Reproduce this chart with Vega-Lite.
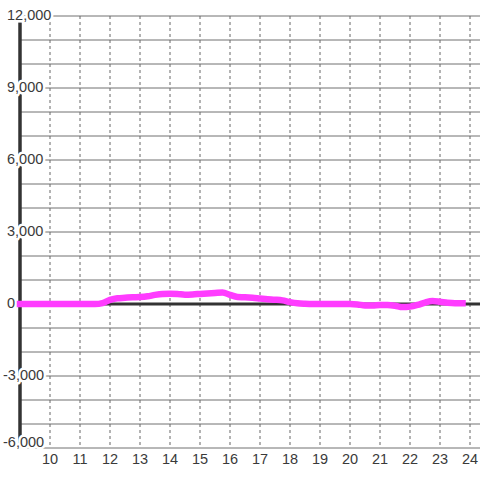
{
  "$schema": "https://vega.github.io/schema/vega-lite/v6.json",
  "width": 480,
  "height": 480,
  "autosize": {"type": "none"},
  "padding": 0,
  "background": "white",
  "config": {"view": {"stroke": null}, "axis": {"disable": true}, "text": {"font": "Liberation Sans", "fontSize": 14.5}},
  "datasets": {
    "series": [
      {"h": 9.0, "v": 0}, {"h": 10.0, "v": 0}, {"h": 11.0, "v": 0}, {"h": 11.5, "v": 0},
      {"h": 11.75, "v": 40}, {"h": 12.0, "v": 170}, {"h": 12.25, "v": 240}, {"h": 12.5, "v": 260},
      {"h": 12.75, "v": 280}, {"h": 13.0, "v": 290}, {"h": 13.25, "v": 320}, {"h": 13.5, "v": 380},
      {"h": 13.75, "v": 420}, {"h": 14.0, "v": 430}, {"h": 14.25, "v": 420}, {"h": 14.5, "v": 390},
      {"h": 14.75, "v": 400}, {"h": 15.0, "v": 420}, {"h": 15.25, "v": 440}, {"h": 15.5, "v": 460},
      {"h": 15.75, "v": 480}, {"h": 16.0, "v": 380}, {"h": 16.25, "v": 290}, {"h": 16.5, "v": 280},
      {"h": 16.75, "v": 260}, {"h": 17.0, "v": 230}, {"h": 17.25, "v": 200}, {"h": 17.5, "v": 180},
      {"h": 17.75, "v": 150}, {"h": 18.0, "v": 80}, {"h": 18.25, "v": 30}, {"h": 18.5, "v": 10},
      {"h": 18.75, "v": 0}, {"h": 19.0, "v": 0}, {"h": 19.5, "v": 0}, {"h": 20.0, "v": 0},
      {"h": 20.25, "v": -20}, {"h": 20.5, "v": -60}, {"h": 20.75, "v": -60}, {"h": 21.0, "v": -40},
      {"h": 21.25, "v": -40}, {"h": 21.5, "v": -70}, {"h": 21.75, "v": -130}, {"h": 22.0, "v": -110},
      {"h": 22.25, "v": -40}, {"h": 22.5, "v": 60}, {"h": 22.75, "v": 120}, {"h": 23.0, "v": 90},
      {"h": 23.25, "v": 50}, {"h": 23.5, "v": 30}, {"h": 23.75, "v": 30}
    ],
    "gridrows": [
      {"v": -6000}, {"v": -5000}, {"v": -4000}, {"v": -3000}, {"v": -2000}, {"v": -1000},
      {"v": 1000}, {"v": 2000}, {"v": 3000}, {"v": 4000}, {"v": 5000}, {"v": 6000},
      {"v": 7000}, {"v": 8000}, {"v": 9000}, {"v": 10000}, {"v": 11000}, {"v": 12000}
    ],
    "xticks": [
      {"h": 10}, {"h": 11}, {"h": 12}, {"h": 13}, {"h": 14}, {"h": 15}, {"h": 16}, {"h": 17},
      {"h": 18}, {"h": 19}, {"h": 20}, {"h": 21}, {"h": 22}, {"h": 23}, {"h": 24}
    ],
    "ylabels": [
      {"v": 12000, "label": "12,000"}, {"v": 9000, "label": "9,000"}, {"v": 6000, "label": "6,000"},
      {"v": 3000, "label": "3,000"}, {"v": 0, "label": "0"}, {"v": -3000, "label": "-3,000"},
      {"v": -6000, "label": "-6,000"}
    ]
  },
  "layer": [
    {
      "data": {"name": "gridrows"},
      "mark": {"type": "rule", "color": "#707070", "strokeWidth": 1},
      "encoding": {
        "y": {"field": "v", "type": "quantitative", "scale": {"domain": [-7333.333, 12666.667], "nice": false, "zero": false}, "axis": null},
        "x": {"datum": 9, "type": "quantitative", "scale": {"domain": [8.33333, 24.33333], "nice": false, "zero": false}, "axis": null},
        "x2": {"datum": 24.33333}
      }
    },
    {
      "data": {"name": "xticks"},
      "mark": {"type": "rule", "color": "#666666", "strokeWidth": 1, "strokeDash": [3, 3]},
      "encoding": {
        "x": {"field": "h", "type": "quantitative", "axis": null},
        "y": {"datum": 12000, "type": "quantitative", "axis": null},
        "y2": {"datum": -6000}
      }
    },
    {
      "data": {"values": [{}]},
      "mark": {"type": "rule", "color": "#333333", "strokeWidth": 3},
      "encoding": {
        "y": {"datum": 0, "type": "quantitative", "axis": null},
        "x": {"datum": 9, "type": "quantitative", "axis": null},
        "x2": {"datum": 24.33333}
      }
    },
    {
      "data": {"values": [{}]},
      "mark": {"type": "rule", "color": "#333333", "strokeWidth": 3.5},
      "encoding": {
        "x": {"datum": 9, "type": "quantitative", "axis": null},
        "y": {"datum": 12000, "type": "quantitative", "axis": null},
        "y2": {"datum": -6000}
      }
    },
    {
      "data": {"name": "ylabels"},
      "transform": [{"filter": "datum.v >= 0"}],
      "mark": {"type": "text", "align": "left", "baseline": "middle", "fill": "white", "stroke": "white", "strokeWidth": 5, "strokeJoin": "round"},
      "encoding": {
        "x": {"datum": 8.56667, "type": "quantitative", "axis": null},
        "y": {"field": "v", "type": "quantitative", "axis": null},
        "text": {"field": "label"}
      }
    },
    {
      "data": {"name": "ylabels"},
      "transform": [{"filter": "datum.v == -3000"}],
      "mark": {"type": "text", "align": "left", "baseline": "middle", "dx": -4, "fill": "white", "stroke": "white", "strokeWidth": 5, "strokeJoin": "round"},
      "encoding": {
        "x": {"datum": 8.56667, "type": "quantitative", "axis": null},
        "y": {"field": "v", "type": "quantitative", "axis": null},
        "text": {"field": "label"}
      }
    },
    {
      "data": {"name": "ylabels"},
      "transform": [{"filter": "datum.v == -6000"}],
      "mark": {"type": "text", "align": "left", "baseline": "alphabetic", "dx": -4, "dy": -1, "fill": "white", "stroke": "white", "strokeWidth": 5, "strokeJoin": "round"},
      "encoding": {
        "x": {"datum": 8.56667, "type": "quantitative", "axis": null},
        "y": {"field": "v", "type": "quantitative", "axis": null},
        "text": {"field": "label"}
      }
    },
    {
      "data": {"name": "ylabels"},
      "transform": [{"filter": "datum.v >= 0"}],
      "mark": {"type": "text", "align": "left", "baseline": "middle", "fill": "#3a3a3a"},
      "encoding": {
        "x": {"datum": 8.56667, "type": "quantitative", "axis": null},
        "y": {"field": "v", "type": "quantitative", "axis": null},
        "text": {"field": "label"}
      }
    },
    {
      "data": {"name": "ylabels"},
      "transform": [{"filter": "datum.v == -3000"}],
      "mark": {"type": "text", "align": "left", "baseline": "middle", "dx": -4, "fill": "#3a3a3a"},
      "encoding": {
        "x": {"datum": 8.56667, "type": "quantitative", "axis": null},
        "y": {"field": "v", "type": "quantitative", "axis": null},
        "text": {"field": "label"}
      }
    },
    {
      "data": {"name": "ylabels"},
      "transform": [{"filter": "datum.v == -6000"}],
      "mark": {"type": "text", "align": "left", "baseline": "alphabetic", "dx": -4, "dy": -1, "fill": "#3a3a3a"},
      "encoding": {
        "x": {"datum": 8.56667, "type": "quantitative", "axis": null},
        "y": {"field": "v", "type": "quantitative", "axis": null},
        "text": {"field": "label"}
      }
    },
    {
      "data": {"name": "xticks"},
      "mark": {"type": "text", "align": "center", "baseline": "middle", "fill": "#3a3a3a"},
      "encoding": {
        "x": {"field": "h", "type": "quantitative", "axis": null},
        "y": {"datum": -6500, "type": "quantitative", "axis": null},
        "text": {"field": "h", "type": "quantitative"}
      }
    },
    {
      "data": {"name": "series"},
      "mark": {"type": "line", "color": "#ff3cff", "strokeWidth": 6.5, "strokeCap": "square", "interpolate": "monotone"},
      "encoding": {
        "x": {"field": "h", "type": "quantitative", "axis": null},
        "y": {"field": "v", "type": "quantitative", "axis": null}
      }
    }
  ]
}
